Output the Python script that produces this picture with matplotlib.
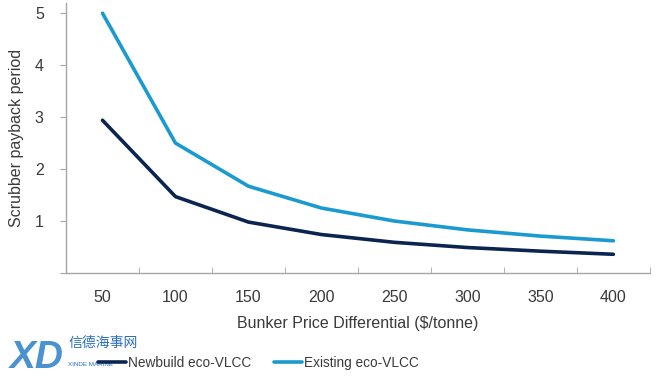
import matplotlib
matplotlib.use('Agg')
import matplotlib.pyplot as plt

plt.rcParams['font.family'] = ['Liberation Sans', 'Noto Sans CJK SC', 'DejaVu Sans']

# data
price_diff = ['50', '100', '150', '200', '250', '300', '350', '400']
newbuild = [2.94, 1.47, 0.98, 0.74, 0.59, 0.49, 0.42, 0.36]
existing = [5.0, 2.5, 1.67, 1.25, 1.0, 0.83, 0.71, 0.62]

dark = '#0c2550'
light = '#1b9ad0'
txt = '#3a3a3a'
grey = '#a6a6a6'

fig = plt.figure(figsize=(6.7, 3.8), dpi=100)
ax = fig.add_axes([0.0985, 0.2816, 0.8715, 0.711])

x = list(range(len(price_diff)))
ax.plot(x, newbuild, color=dark, lw=2.6, label='Newbuild eco-VLCC', solid_capstyle='round')
ax.plot(x, existing, color=light, lw=2.6, label='Existing eco-VLCC', solid_capstyle='round')

ax.set_xlim(-0.5, len(price_diff) - 0.5)
ax.set_ylim(0, 5.2)
ax.set_yticks([0, 1, 2, 3, 4, 5])
ax.set_yticklabels(['', '1', '2', '3', '4', '5'])
ax.set_xticks(x)
ax.set_xticklabels(price_diff)
ax.set_xticks([i - 0.5 for i in range(len(price_diff) + 1)], minor=True)
ax.tick_params(axis='x', which='major', length=0, pad=12, labelsize=11.5, labelcolor=txt)
ax.tick_params(axis='x', which='minor', length=4, color=grey, direction='in')
ax.tick_params(axis='y', length=4, color=grey, labelsize=11.5, labelcolor=txt, pad=12)

for s in ['top', 'right']:
    ax.spines[s].set_visible(False)
for s in ['left', 'bottom']:
    ax.spines[s].set_color(grey)
    ax.spines[s].set_linewidth(1.0)

ax.set_xlabel('Bunker Price Differential ($/tonne)', fontsize=11.5, color=txt, labelpad=8)
ax.set_ylabel('Scrubber payback period', fontsize=11.5, color=txt, labelpad=8)

fig.legend(loc='center left', bbox_to_anchor=(0.146, 0.045), ncol=2, frameon=False,
           fontsize=9.8, labelcolor=txt, handlelength=2.05, handletextpad=0.15,
           columnspacing=1.7, borderpad=0, borderaxespad=0)

# watermark logo
fig.text(0.015, 0.058, 'XD', fontsize=28, fontweight='bold', style='italic',
         color='#2a7fc8', va='center', ha='left', alpha=0.85)
fig.text(0.102, 0.098, '信德海事网', fontsize=10, color='#2a6fc0',
         va='center', ha='left', family=['Noto Sans CJK SC'])
fig.text(0.102, 0.042, 'XINDE MARINE', fontsize=4.5, color='#2a6fc0',
         va='center', ha='left')

fig.savefig('out.png', dpi=100)
